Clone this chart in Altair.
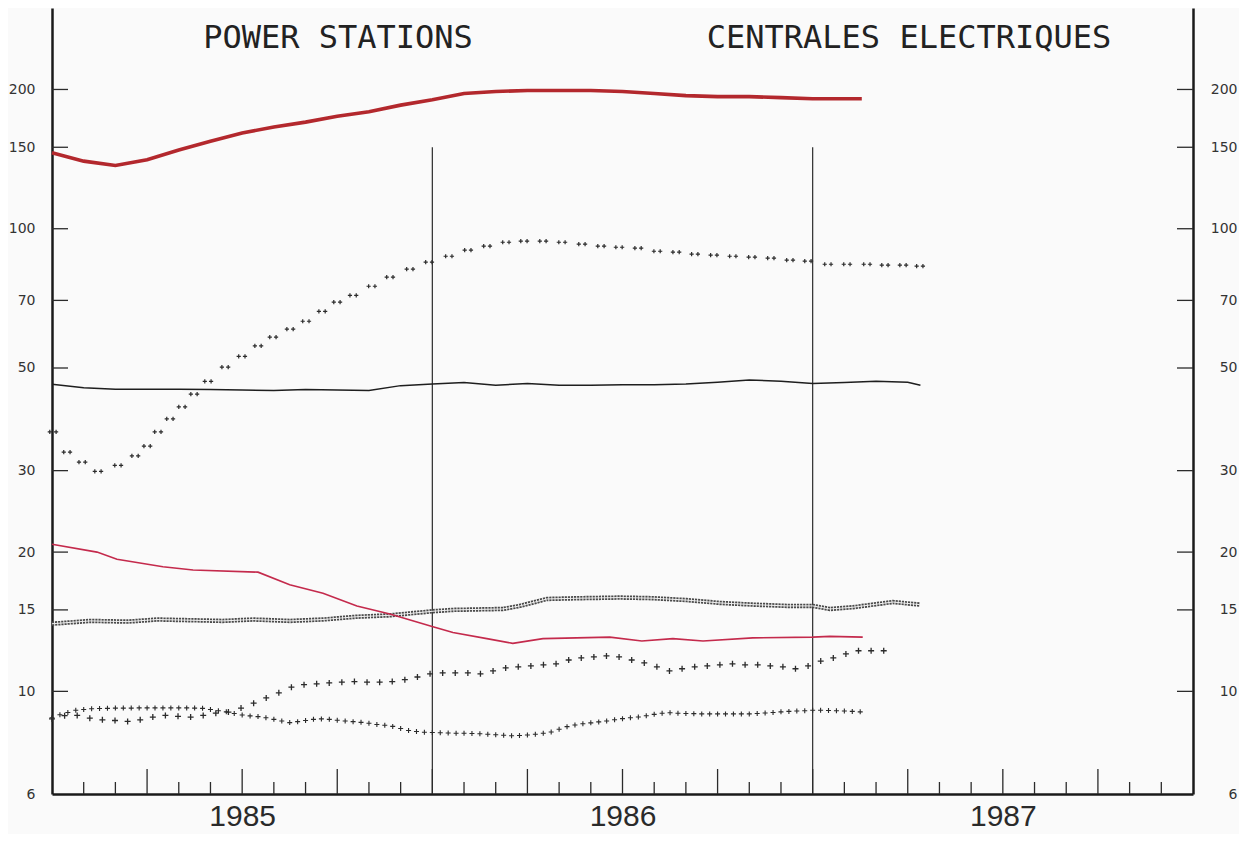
import altair as alt
import pandas as pd

W, H = 1141, 786

# ---------------- data (x = months since Jan 1985) ----------------
years = ["1985", "1986", "1987"]
year_mid = [6, 18, 30]
year_lines = [12, 24]
y_ticks = [6, 10, 15, 20, 30, 50, 70, 100, 150, 200]
inner_ticks = [10, 15, 20, 30, 50, 70, 100, 150, 200]
month_short = [1, 2, 4, 5, 7, 8, 10, 11, 13, 14, 16, 17, 19, 20, 22, 23, 25, 26, 28, 29, 31, 32, 34, 35]
month_long = [3, 6, 9, 12, 15, 18, 21, 24, 27, 30, 33]
titles = ["POWER STATIONS", "CENTRALES ELECTRIQUES"]

# thick red line
red_m = list(range(26)) + [25.55]
red_v = [146, 140, 137, 141, 148, 154.5, 161, 166, 170, 175, 179, 185, 190, 196, 198, 199,
         199, 199, 198, 196, 194, 193, 193, 192, 191, 191, 191]

# thin black line
black_m = list(range(28)) + [27.4]
black_v = [46.1, 45.3, 45.0, 45.0, 45.0, 44.9, 44.8, 44.7, 44.9, 44.8, 44.7, 45.8, 46.2, 46.5,
           45.9, 46.3, 45.9, 45.9, 46.0, 46.0, 46.2, 46.6, 47.1, 46.8, 46.3, 46.5, 46.8, 46.6, 45.9]

# thin red line
tred_m = [0, 1.42, 2.05, 3.5, 4.45, 6.5, 7.5, 8.55, 9.62, 10.66, 12.02, 12.65, 13.72, 14.54,
          15.49, 17.6, 18.61, 19.59, 20.54, 22.11, 24.0, 24.54, 25.58]
tred_v = [20.8, 20.0, 19.3, 18.6, 18.3, 18.1, 17.0, 16.3, 15.3, 14.7, 13.8, 13.4, 13.0, 12.7,
          13.0, 13.1, 12.85, 13.0, 12.85, 13.05, 13.1, 13.15, 13.1]

# double (hatched) line
dbl_m = [0, 1.2, 2.4, 3.31, 5.39, 6.34, 7.5, 8.55, 9.62, 10.66, 12.02, 12.65, 14.23, 14.76,
         15.62, 16.66, 17.92, 18.96, 20.03, 21.07, 22.11, 23.19, 24.0, 24.54, 25.27, 26.53, 27.38]
dbl_v = [14.0, 14.2, 14.15, 14.3, 14.2, 14.3, 14.2, 14.3, 14.5, 14.6, 14.9, 15.0, 15.07, 15.3,
         15.84, 15.9, 15.95, 15.9, 15.75, 15.53, 15.4, 15.3, 15.3, 15.07, 15.2, 15.6, 15.4]

# "++" dotted series (30 -> 94)
pp_m = [0.03, 0.47, 0.95, 1.45, 2.08, 2.62, 3.0, 3.34, 3.72, 4.10, 4.48, 4.92, 5.46, 5.99, 6.50,
        6.97, 7.51, 8.01, 8.52, 8.99, 9.50, 10.09, 10.66, 11.29, 11.89, 12.52, 13.12, 13.72, 14.32,
        14.89, 15.49, 16.09, 16.72, 17.32, 17.89, 18.49, 19.09, 19.69, 20.28, 20.88, 21.48, 22.08,
        22.68, 23.28, 23.85, 24.48, 25.08, 25.71, 26.28, 26.85, 27.38]
pp_v = [36.4, 32.9, 31.3, 29.9, 30.8, 32.3, 33.9, 36.4, 38.8, 41.2, 43.9, 46.8, 50.2, 53.0, 55.8,
        58.3, 60.7, 63.1, 66.3, 69.4, 71.8, 75.1, 78.6, 81.8, 84.7, 87.2, 89.9, 91.7, 93.5, 94.0,
        94.0, 93.5, 92.6, 91.7, 91.2, 90.8, 89.4, 89.0, 88.1, 87.7, 87.2, 86.8, 86.4, 85.5, 85.1,
        83.8, 83.8, 83.8, 83.4, 83.4, 83.0]

# sparse "+" series (8.7 -> 12.2), sampled every ~0.4 month
sp_step = 0.3976
sp_v = [8.72, 8.86, 8.87, 8.75, 8.68, 8.65, 8.61, 8.68, 8.80, 8.87, 8.83,
        8.80, 8.87, 8.97, 9.02, 9.20, 9.43, 9.68, 9.93, 10.21, 10.34,
        10.38, 10.43, 10.47, 10.50, 10.47, 10.47, 10.50, 10.60, 10.74, 10.91,
        10.96, 10.96, 10.96, 10.91, 11.07, 11.24, 11.30, 11.35, 11.41, 11.47,
        11.69, 11.81, 11.87, 11.93, 11.87, 11.69, 11.52, 11.30, 11.07, 11.19,
        11.30, 11.35, 11.41, 11.47, 11.41, 11.41, 11.35, 11.30, 11.19, 11.35,
        11.63, 11.81, 12.05, 12.24, 12.24, 12.24]
sp_m = [round(k * sp_step, 3) for k in range(len(sp_v))]

# dense "+" series (~8-9), sampled weekly (quarter month)
dn_step = 0.25
dn_v = [8.77, 8.90, 9.00, 9.10, 9.14, 9.17, 9.18, 9.19, 9.20, 9.20,
        9.20, 9.21, 9.21, 9.21, 9.21, 9.21, 9.21, 9.21, 9.20, 9.19,
        9.14, 9.08, 9.03, 8.96, 8.89, 8.85, 8.82, 8.77, 8.70, 8.63,
        8.56, 8.60, 8.65, 8.70, 8.72, 8.70, 8.66, 8.63, 8.60, 8.57,
        8.53, 8.48, 8.45, 8.40, 8.31, 8.23, 8.19, 8.16, 8.15, 8.14,
        8.13, 8.12, 8.12, 8.11, 8.10, 8.08, 8.06, 8.04, 8.02, 8.03,
        8.05, 8.08, 8.12, 8.17, 8.28, 8.39, 8.46, 8.51, 8.55, 8.59,
        8.63, 8.68, 8.73, 8.77, 8.80, 8.86, 8.92, 8.97, 8.99, 8.97,
        8.96, 8.95, 8.94, 8.94, 8.94, 8.94, 8.94, 8.94, 8.94, 8.96,
        8.98, 9.00, 9.03, 9.05, 9.07, 9.08, 9.10, 9.10, 9.09, 9.08,
        9.07, 9.05, 9.03]
dn_m = [k * dn_step for k in range(len(dn_v))]

# ---------------- scales / axes ----------------
xs = alt.Scale(domain=[0, 36], nice=False, zero=False)
ys = alt.Scale(type="log", domain=[6, 300], nice=False)

x_axis = alt.Axis(values=year_mid, labelExpr=f"{years}[floor(datum.value / 12)]",
                  ticks=False, tickSize=0, labelPadding=7, labelFont="Liberation Sans",
                  labelFontSize=30, labelColor="#2a2a2a", domainColor="#1a1a1a",
                  domainWidth=2.5, grid=False, title=None, labelFlush=False)
ax_common = dict(values=y_ticks, format="d", ticks=False, tickSize=0, labelFont="DejaVu Sans",
                 labelFontSize=14, labelColor="#333333", domainColor="#1a1a1a", domainWidth=2.5,
                 grid=False, title=None, labelFlush=False)
left_axis = alt.Axis(orient="left", labelPadding=17, **ax_common)
right_axis = alt.Axis(orient="right", labelPadding=44, labelAlign="right", **ax_common)


def X(f="m"):
    return alt.X(f"{f}:Q", scale=xs, axis=x_axis)


def Y(f="v", axis=None):
    return alt.Y(f"{f}:Q", scale=ys, axis=axis)


def df(m, v):
    return pd.DataFrame({"m": m, "v": v})


ink = "#2b2b2b"

vlines = alt.Chart(pd.DataFrame({"m": year_lines, "top": [150] * len(year_lines)})).mark_rule(
    color=ink, strokeWidth=1.2).encode(x=X(), y=Y("top"), y2=alt.value(H))

short_ticks = alt.Chart(pd.DataFrame({"m": month_short})).mark_rule(
    color=ink, strokeWidth=1.3).encode(x=X(), y=alt.value(H), y2=alt.value(H - 12))
long_ticks = alt.Chart(pd.DataFrame({"m": month_long})).mark_rule(
    color=ink, strokeWidth=1.3).encode(x=X(), y=alt.value(H), y2=alt.value(H - 25))

lticks = alt.Chart(pd.DataFrame({"v": inner_ticks})).mark_rule(
    color=ink, strokeWidth=1.3).encode(x=alt.value(0), x2=alt.value(16), y=Y())
rticks = alt.Chart(pd.DataFrame({"v": inner_ticks})).mark_rule(
    color=ink, strokeWidth=1.3).encode(x=alt.value(W - 16), x2=alt.value(W), y=Y())

dbl_base = alt.Chart(df(dbl_m, dbl_v)).mark_line(
    color="#4a4a4a", strokeWidth=4.5, strokeDash=[2.2, 0.9]).encode(x=X(), y=Y())
dbl_core = alt.Chart(df(dbl_m, dbl_v)).mark_line(
    color="#f0f0f0", strokeWidth=1.0).encode(x=X(), y=Y())

cross = "M-1,0L1,0M0,-1L0,1"
dcross = "M-1,0L-0.2,0M-0.6,-0.4L-0.6,0.4M0.2,0L1,0M0.6,-0.4L0.6,0.4"

dense = alt.Chart(df(dn_m, dn_v)).mark_point(
    shape=cross, filled=False, color=ink, strokeWidth=1.1, size=25, opacity=1).encode(x=X(), y=Y())
sparse = alt.Chart(df(sp_m, sp_v)).mark_point(
    shape=cross, filled=False, color=ink, strokeWidth=1.3, size=36, opacity=1).encode(x=X(), y=Y())
pplus = alt.Chart(df(pp_m, pp_v)).mark_point(
    shape=dcross, filled=False, color=ink, strokeWidth=1.2, size=110, opacity=1).encode(x=X(), y=Y())

tred = alt.Chart(df(tred_m, tred_v)).mark_line(
    color="#c42a4c", strokeWidth=1.6).encode(x=X(), y=Y())
black = alt.Chart(df(black_m, black_v)).mark_line(
    color="#1e1e1e", strokeWidth=1.5).encode(x=X(), y=Y(axis=left_axis))
thick = alt.Chart(df(red_m, red_v)).mark_line(
    color="#b3282d", strokeWidth=3.6).encode(x=X(), y=Y(axis=right_axis))

t1 = alt.Chart(pd.DataFrame({"t": [titles[0]]})).mark_text(
    font="DejaVu Sans Mono", fontSize=32, align="center", baseline="alphabetic",
    color="#222222").encode(x=alt.value(286), y=alt.value(40), text="t:N")
t2 = alt.Chart(pd.DataFrame({"t": [titles[1]]})).mark_text(
    font="DejaVu Sans Mono", fontSize=32, align="center", baseline="alphabetic",
    color="#222222").encode(x=alt.value(857), y=alt.value(40), text="t:N")

chart = alt.layer(
    vlines, short_ticks, long_ticks, lticks, rticks, dbl_base, dbl_core, dense, sparse, pplus,
    tred, black, thick, t1, t2
).resolve_axis(y="independent").properties(
    width=W, height=H,
    padding={"left": 44, "top": 0, "right": 46, "bottom": 40},
    autosize=alt.AutoSizeParams(type="none"),
    background="#fafafa",
).configure_view(stroke=None)

chart.save("out.html", embed_options={"renderer": "svg", "actions": False})
